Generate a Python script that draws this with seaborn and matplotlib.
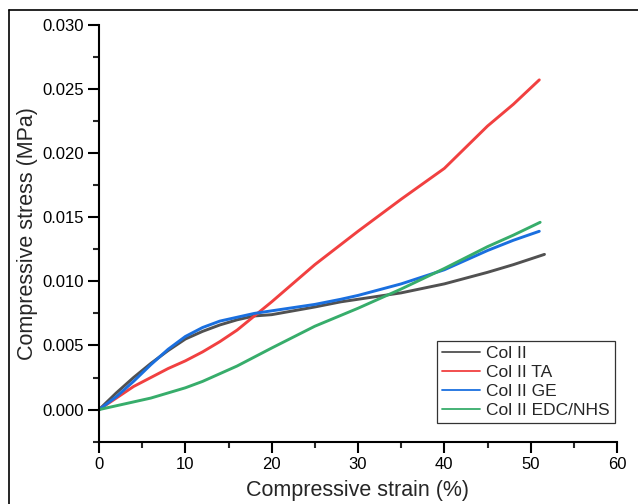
import numpy as np
import pandas as pd
import matplotlib
matplotlib.use("Agg")
import matplotlib.pyplot as plt
from matplotlib.lines import Line2D
from matplotlib.ticker import MultipleLocator
import seaborn as sns

# ---- data ----
strain_col2 = [0, 2, 4, 6, 8, 10, 12, 14, 16, 18, 20, 25, 28, 30, 35, 40, 45, 48, 51.6]
stress_col2 = [0, 0.0013, 0.0025, 0.0036, 0.0046, 0.0055, 0.0061, 0.0066, 0.0070, 0.0073,
               0.0074, 0.0080, 0.0084, 0.0086, 0.0091, 0.0098, 0.0107, 0.0113, 0.0121]

strain_ta = [0, 2, 4, 6, 8, 10, 12, 14, 16, 18, 20, 25, 30, 35, 40, 45, 48, 51.0]
stress_ta = [0, 0.0009, 0.0018, 0.0025, 0.0032, 0.0038, 0.0045, 0.0053, 0.0062, 0.0073,
             0.0084, 0.0113, 0.0139, 0.0164, 0.0188, 0.0221, 0.0238, 0.0257]

strain_ge = [0, 2, 4, 6, 8, 10, 12, 14, 16, 18, 20, 25, 28, 30, 35, 40, 45, 48, 51.0]
stress_ge = [0, 0.0010, 0.0022, 0.0035, 0.0047, 0.0057, 0.0064, 0.0069, 0.0072, 0.0075,
             0.0077, 0.0082, 0.0086, 0.0089, 0.0098, 0.0109, 0.0124, 0.0132, 0.0139]

strain_edc = [0, 2, 4, 6, 8, 10, 12, 14, 16, 18, 20, 25, 30, 35, 40, 45, 48, 51.1]
stress_edc = [0, 0.0003, 0.0006, 0.0009, 0.0013, 0.0017, 0.0022, 0.0028, 0.0034, 0.0041,
              0.0048, 0.0065, 0.0079, 0.0094, 0.0110, 0.0127, 0.0136, 0.0146]

labels = ["Col II", "Col II TA", "Col II GE", "Col II EDC/NHS"]
colors = ["#515151", "#F14040", "#1A6FDF", "#37AD6B"]

x_ticks = [0, 10, 20, 30, 40, 50, 60]
y_ticks = [0.000, 0.005, 0.010, 0.015, 0.020, 0.025, 0.030]

frames = []
for lab, xs, ys in zip(labels,
                       [strain_col2, strain_ta, strain_ge, strain_edc],
                       [stress_col2, stress_ta, stress_ge, stress_edc]):
    frames.append(pd.DataFrame({"strain": xs, "stress": ys, "sample": lab}))
df = pd.concat(frames, ignore_index=True)

# ---- style ----
sns.set_style("ticks")
plt.rcParams["font.family"] = ["Liberation Sans", "DejaVu Sans"]

fig = plt.figure(figsize=(6.38, 5.04), dpi=100)
ax = fig.add_axes([99 / 638, 62.3 / 504, (617 - 99) / 638, (441.7 - 24.7) / 504])

sns.lineplot(data=df, x="strain", y="stress", hue="sample", hue_order=labels,
             palette=colors, estimator=None, sort=False, linewidth=2.1, ax=ax)

ax.set_xlim(0, 60)
ax.set_ylim(-0.0025, 0.030)
ax.set_xticks(x_ticks)
ax.set_yticks(y_ticks)
ax.set_xticklabels([str(v) for v in x_ticks])
ax.set_yticklabels([f"{v:.3f}" for v in y_ticks])
ax.xaxis.set_minor_locator(MultipleLocator(5))
ax.yaxis.set_minor_locator(MultipleLocator(0.0025))
ax.tick_params(which="major", direction="out", length=8, width=1.5, labelsize=12,
               colors="black", pad=3)
ax.tick_params(which="minor", direction="out", length=4, width=1.5)
sns.despine(ax=ax)
for s in ["left", "bottom"]:
    ax.spines[s].set_linewidth(1.5)
    ax.spines[s].set_color("black")

ax.set_xlabel("Compressive strain (%)", fontsize=15.5, labelpad=6)
ax.set_ylabel("Compressive stress (MPa)", fontsize=15.5, labelpad=3)

handles = [Line2D([0], [0], color=c, lw=1.3) for c in colors]
leg = ax.legend(handles, labels, loc="upper left",
                bbox_to_anchor=((437 - 99) / 518, (441.7 - 341) / 417),
                borderaxespad=0, fontsize=12.5, frameon=True, fancybox=False,
                framealpha=1, edgecolor="#333333", borderpad=0.3,
                handlelength=2.2, handletextpad=0.35, labelspacing=0.22)
leg.get_frame().set_linewidth(0.9)

# outer frame (left and top edges visible)
fig.add_artist(Line2D([9 / 638, 1.0], [1 - 10 / 504, 1 - 10 / 504], color="black", lw=1.2))
fig.add_artist(Line2D([9 / 638, 9 / 638], [0.0, 1 - 10 / 504], color="black", lw=1.2))

fig.savefig("out.png", dpi=100)
